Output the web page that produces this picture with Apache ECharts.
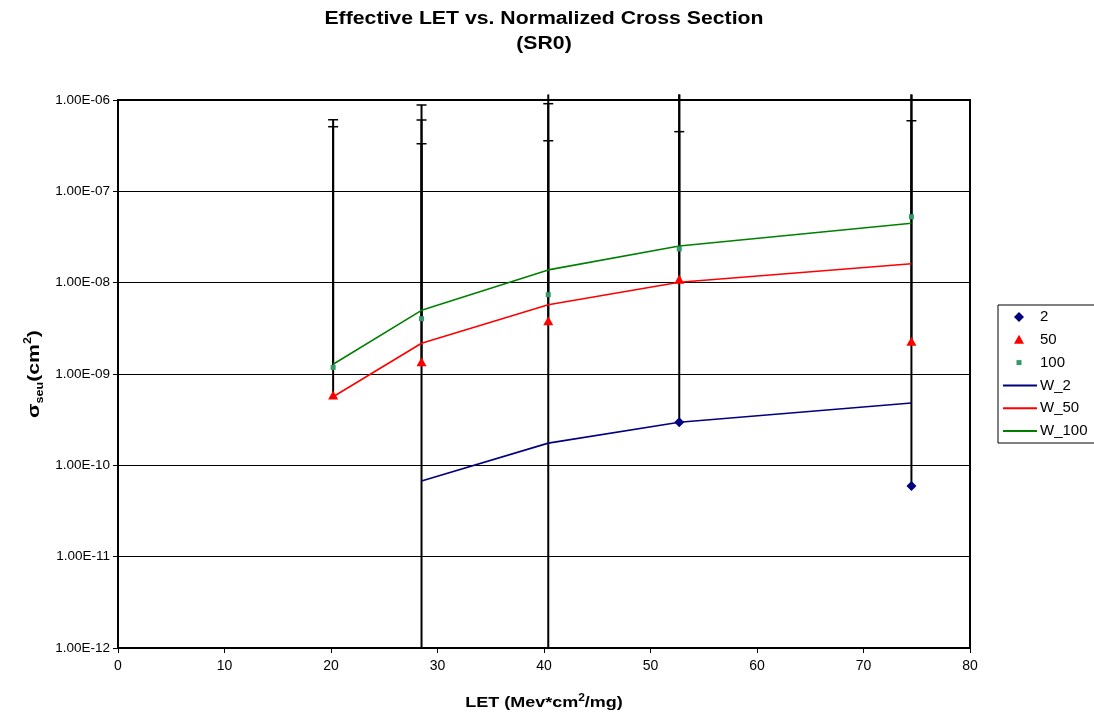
<!DOCTYPE html>
<html><head><meta charset="utf-8">
<script src="https://cdn.jsdelivr.net/npm/echarts@6/dist/echarts.min.js"></script>
<style>html,body{margin:0;padding:0;background:#fff}#c{width:1094px;height:717px}</style>
</head><body><div id="c"></div>
<script>
// ---- data ----
const letValues = [20.2, 28.5, 40.4, 52.7, 74.5];
const pts2   = [null, null, null, 2.96e-10, 5.94e-11];
const pts50  = [5.89e-10, 1.36e-9, 3.83e-9, 1.09e-8, 2.28e-9];
const pts100 = [1.18e-9, 4.03e-9, 7.38e-9, 2.34e-8, 5.27e-8];
const w2   = [null, 6.73e-11, 1.75e-10, 2.96e-10, 4.81e-10];
const w50  = [5.64e-10, 2.17e-9, 5.74e-9, 1.01e-8, 1.61e-8];
const w100 = [1.28e-9, 4.98e-9, 1.38e-8, 2.52e-8, 4.47e-8];
// error bars (x, lower end, upper end)
const errX    = [20.2, 20.2, 28.5, 28.5, 28.5, 40.4, 40.4, 40.4, 52.7, 52.7, 52.7, 74.5, 74.5, 74.5];
const errLow  = [5.89e-10, 1.18e-9, 1e-12, 1.36e-9, 4.03e-9, 1e-12, 3.83e-9, 7.38e-9, 2.96e-10, 1.09e-8, 2.34e-8, 5.94e-11, 2.28e-9, 5.27e-8];
const errHigh = [6.08e-7, 5.10e-7, 8.82e-7, 6.04e-7, 3.32e-7, 9.11e-7, 3.58e-7, 1.15e-6, 4.50e-7, 1.15e-6, 1.15e-6, 5.93e-7, 1.15e-6, 1.15e-6];
const xTicks = [0, 10, 20, 30, 40, 50, 60, 70, 80];
const yMin = 1e-12, yMax = 1e-6;
const legendNames = ['2', '50', '100', 'W_2', 'W_50', 'W_100'];

const FONT = 'Arial, "Liberation Sans", sans-serif';
const NAVY = '#000080', RED = '#FF0000', GREEN = '#008000', SQ = '#339966';

function pairs(ys) { return letValues.map((x, i) => [x, ys[i]]).filter(d => d[1] != null); }
function fmtExp(v) {
  const e = Math.round(Math.log10(v));
  const a = Math.abs(e);
  return '1.00E' + (e < 0 ? '-' : '+') + (a < 10 ? '0' + a : a);
}

const chart = echarts.init(document.getElementById('c'), null, { renderer: 'canvas' });

// legend built from names
const legendSym = [
  { type: 'polygon', shape: { points: [[0, -5], [5, 0], [0, 5], [-5, 0]] }, style: { fill: NAVY } },
  { type: 'polygon', shape: { points: [[0, -5], [5, 4], [-5, 4]] }, style: { fill: RED } },
  { type: 'rect', shape: { x: -2.5, y: -2.5, width: 5, height: 5 }, style: { fill: SQ } },
  { type: 'line', shape: { x1: -16, y1: 0, x2: 18, y2: 0 }, style: { stroke: NAVY, lineWidth: 2 } },
  { type: 'line', shape: { x1: -16, y1: 0, x2: 18, y2: 0 }, style: { stroke: RED, lineWidth: 2 } },
  { type: 'line', shape: { x1: -16, y1: 0, x2: 18, y2: 0 }, style: { stroke: GREEN, lineWidth: 2 } }
];
const legendChildren = [{ type: 'rect', shape: { x: 0, y: 0, width: 100, height: 138 }, style: { fill: '#fff', stroke: '#000', lineWidth: 1 } }];
legendNames.forEach((n, i) => {
  const cy = 12 + i * 22.8;
  const s = legendSym[i];
  legendChildren.push(Object.assign({}, s, { x: 21, y: cy }));
  legendChildren.push({ type: 'text', x: 42, y: cy, style: { text: n, font: '15px ' + FONT, fill: '#000', textVerticalAlign: 'middle' } });
});

const option = {
  backgroundColor: '#fff',
  animation: false,
  grid: { left: 118, right: 124, top: 100, bottom: 69, show: true, borderColor: '#000', borderWidth: 2, backgroundColor: 'transparent' },
  xAxis: {
    type: 'value', min: 0, max: 80, interval: 10,
    axisLine: { show: true, lineStyle: { color: '#000', width: 2 } },
    axisTick: { show: true, length: 5, lineStyle: { color: '#000' } },
    axisLabel: { color: '#000', fontSize: 14, fontFamily: FONT, margin: 11 },
    splitLine: { show: false }
  },
  yAxis: {
    type: 'log', logBase: 10, min: yMin, max: yMax, interval: 1,
    axisLine: { show: true, lineStyle: { color: '#000', width: 2 } },
    axisTick: { show: true, length: 5, lineStyle: { color: '#000' } },
    axisLabel: { color: '#000', fontSize: 13.5, fontFamily: FONT, margin: 8, formatter: fmtExp },
    splitLine: { show: true, lineStyle: { color: '#000', width: 1 } },
    minorTick: { show: false }
  },
  graphic: [
    { type: 'text', x: 544, y: 10, scaleX: 1.18, style: { text: 'Effective LET vs. Normalized Cross Section', font: 'bold 18px ' + FONT, fill: '#000', textAlign: 'center' } },
    { type: 'text', x: 544, y: 35, scaleX: 1.18, style: { text: '(SR0)', font: 'bold 18px ' + FONT, fill: '#000', textAlign: 'center' } },
    { type: 'text', x: 544, y: 703, scaleX: 1.2, style: {
        text: '{a|LET (Mev*cm}{c|2}{a|/mg)}', textAlign: 'center', textVerticalAlign: 'middle',
        rich: { a: { font: 'bold 15px ' + FONT, fill: '#000', lineHeight: 20 }, c: { font: 'bold 10px ' + FONT, fill: '#000', lineHeight: 12, verticalAlign: 'top' } } } },
    { type: 'text', x: 34, y: 374, rotation: Math.PI / 2, scaleX: 1.25, style: {
        text: '{a|σ}{b|seu}{a|(cm}{c|2}{a|)}', textAlign: 'center', textVerticalAlign: 'middle',
        rich: { a: { font: 'bold 17px ' + FONT, fill: '#000', lineHeight: 22 }, b: { font: 'bold 10px ' + FONT, fill: '#000', lineHeight: 12, verticalAlign: 'bottom' }, c: { font: 'bold 10px ' + FONT, fill: '#000', lineHeight: 12, verticalAlign: 'top' } } } },
    { type: 'group', x: 998, y: 305, children: legendChildren }
  ],
  series: [
    {
      name: 'err', type: 'custom', z: 2, clip: false, silent: true,
      encode: { x: 0, y: [1, 2] },
      data: errX.map((x, i) => [x, errLow[i], errHigh[i]]),
      renderItem: function (params, api) {
        const x = api.value(0), lo = api.value(1), hi = api.value(2);
        const p1 = api.coord([x, lo]), p2 = api.coord([x, hi]);
        const ch = [{ type: 'line', shape: { x1: p1[0], y1: p1[1], x2: p2[0], y2: p2[1] }, style: { stroke: '#000', lineWidth: 2 } }];
        if (hi <= yMax) ch.push({ type: 'line', shape: { x1: p2[0] - 5, y1: p2[1], x2: p2[0] + 5, y2: p2[1] }, style: { stroke: '#000', lineWidth: 1.5 } });
        return { type: 'group', children: ch };
      }
    },
    { name: 'W_2', type: 'line', z: 3, data: pairs(w2), showSymbol: false, symbol: 'none', lineStyle: { color: NAVY, width: 1.6 } },
    { name: 'W_50', type: 'line', z: 3, data: pairs(w50), showSymbol: false, symbol: 'none', lineStyle: { color: RED, width: 1.6 } },
    { name: 'W_100', type: 'line', z: 3, data: pairs(w100), showSymbol: false, symbol: 'none', lineStyle: { color: GREEN, width: 1.6 } },
    { name: '2', type: 'scatter', z: 4, data: pairs(pts2), symbol: 'diamond', symbolSize: 10, itemStyle: { color: NAVY, opacity: 1 } },
    { name: '50', type: 'scatter', z: 4, data: pairs(pts50), symbol: 'triangle', symbolSize: [10, 9], itemStyle: { color: RED, opacity: 1 } },
    { name: '100', type: 'scatter', z: 4, data: pairs(pts100), symbol: 'rect', symbolSize: 5, itemStyle: { color: SQ, opacity: 1 } }
  ]
};
chart.setOption(option);
</script>
</body></html>
